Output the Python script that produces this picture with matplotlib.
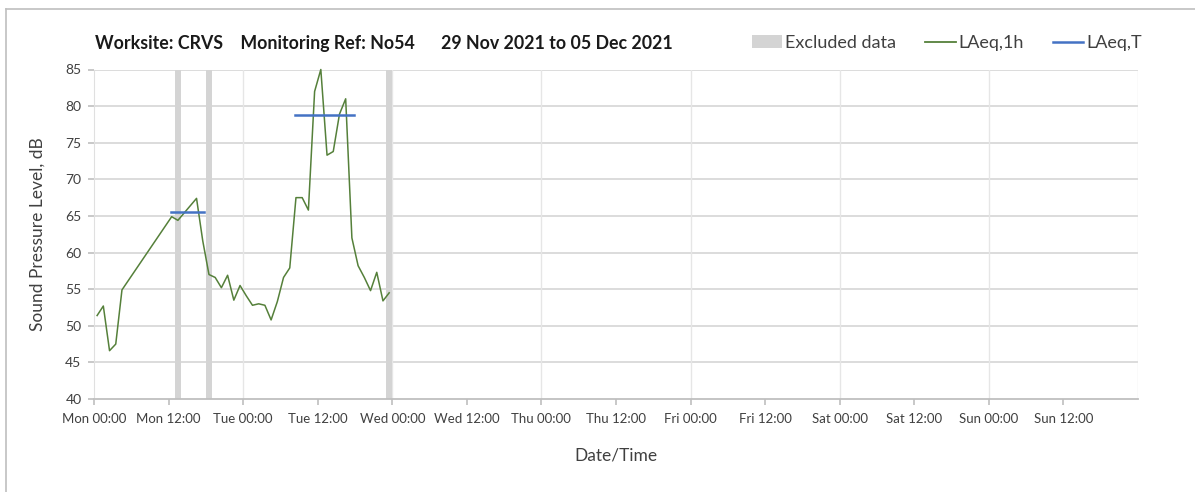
import matplotlib
matplotlib.use('Agg')
import matplotlib.pyplot as plt
from matplotlib.patches import Patch
from matplotlib.lines import Line2D

plt.rcParams['font.family'] = ['Lato', 'DejaVu Sans']

# hours since Mon 00:00, hourly LAeq,1h values
HOURS = [0.5, 1.5, 2.5, 3.5, 4.5,
         12.5, 13.5, 14.5, 15.5, 16.5, 17.5, 18.5, 19.5, 20.5, 21.5, 22.5, 23.5,
         24.5, 25.5, 26.5, 27.5, 28.5, 29.5, 30.5, 31.5, 32.5, 33.5, 34.5, 35.5,
         36.5, 37.5, 38.5, 39.5, 40.5, 41.5, 42.5, 43.5, 44.5, 45.5, 46.5, 47.5]
LAEQ_1H = [51.4, 52.7, 46.6, 47.5, 54.9,
           64.9, 64.4, 65.4, 66.4, 67.4, 61.6, 57.0, 56.6, 55.2, 56.9, 53.5, 55.5,
           54.1, 52.8, 53.0, 52.8, 50.8, 53.3, 56.6, 57.9, 67.5, 67.5, 65.8, 82.0,
           85.0, 73.3, 73.8, 78.9, 81.0, 62.0, 58.2, 56.6, 54.8, 57.3, 53.4, 54.5]

# LAeq,T periods: (start hour, end hour, level)
LAEQ_T = [(12.4, 17.7, 65.6), (32.4, 41.8, 78.8)]

# excluded data periods (start hour, end hour)
EXCLUDED = [(13.0, 14.0), (18.0, 19.0), (47.0, 48.0)]

TICK_HOURS = list(range(0, 168, 12))
TICK_LABELS = ['Mon 00:00', 'Mon 12:00', 'Tue 00:00', 'Tue 12:00', 'Wed 00:00',
               'Wed 12:00', 'Thu 00:00', 'Thu 12:00', 'Fri 00:00', 'Fri 12:00',
               'Sat 00:00', 'Sat 12:00', 'Sun 00:00', 'Sun 12:00']

GREEN = '#55803a'
BLUE = '#4472c4'
BAND = '#d4d4d4'
GRID = '#d9d9d9'

fig = plt.figure(figsize=(11.95, 4.92), dpi=100)
ax = fig.add_axes([94 / 1195, 1 - 399 / 492, (1138 - 94) / 1195, (399 - 69.5) / 492])

for x0, x1 in EXCLUDED:
    ax.axvspan(x0, x1, color=BAND, lw=0, zorder=1)

ax.plot(HOURS, LAEQ_1H, color=GREEN, lw=1.1, zorder=3, clip_on=False)
for x0, x1, lvl in LAEQ_T:
    ax.plot([x0, x1], [lvl, lvl], color=BLUE, lw=1.8, zorder=4)

ax.set_xlim(0, 168)
ax.set_ylim(40, 85)
ax.set_yticks(range(40, 86, 5))
ax.set_xticks(TICK_HOURS)
ax.set_xticklabels(TICK_LABELS)

# horizontal grid every 5 dB, vertical grid every day
for v in range(45, 86, 5):
    ax.axhline(v, color=GRID, lw=1.3, zorder=0)
for h in range(24, 169, 24):
    ax.axvline(h, color='#e6e6e6', lw=1.0, zorder=0)

for s in ['top', 'right']:
    ax.spines[s].set_visible(False)
ax.spines['left'].set_color('#e0e0e0')
ax.spines['bottom'].set_color('#bfbfbf')
ax.spines['bottom'].set_linewidth(1.3)
ax.tick_params(axis='x', colors='#bfbfbf', length=4, width=1.2, labelcolor='#404040',
               labelsize=9.5, pad=6)
ax.tick_params(axis='y', colors='#bfbfbf', length=4, width=1.2, labelcolor='#404040',
               labelsize=10, pad=5)

ax.set_ylabel('Sound Pressure Level, dB', fontsize=12.5, color='#404040', labelpad=14)
ax.set_xlabel('Date/Time', fontsize=12.5, color='#404040', labelpad=16)

fig.text(384 / 1195, 1 - 43 / 492,
         'Worksite: CRVS    Monitoring Ref: No54      29 Nov 2021 to 05 Dec 2021',
         ha='center', va='center', fontsize=12.8, fontweight='bold', color='#1a1a1a')

handles = [Patch(facecolor=BAND, edgecolor='none', label='Excluded data'),
           Line2D([], [], color=GREEN, lw=1.3, label='LAeq,1h'),
           Line2D([], [], color=BLUE, lw=1.8, label='LAeq,T')]
fig.legend(handles=handles, loc='center right', bbox_to_anchor=(1158 / 1195, 1 - 43 / 492),
           ncol=3, frameon=False, fontsize=13, handlelength=1.7, handletextpad=0.15,
           columnspacing=1.6, labelcolor='#404040')

# outer frame (left and top edges visible)
fig.add_artist(Line2D([6 / 1195, 6 / 1195], [0, 1 - 9 / 492], color='#bfbfbf', lw=1.2,
                      transform=fig.transFigure))
fig.add_artist(Line2D([6 / 1195, 1], [1 - 9 / 492, 1 - 9 / 492], color='#bfbfbf', lw=1.2,
                      transform=fig.transFigure))

fig.savefig('out.png', dpi=100)
